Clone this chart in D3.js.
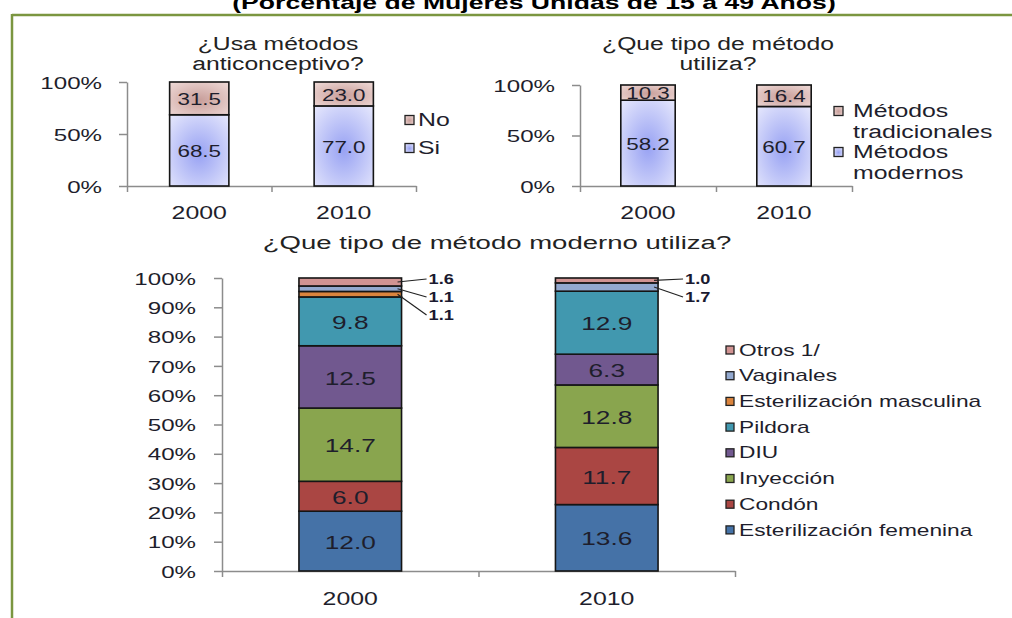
<!DOCTYPE html>
<html><head><meta charset="utf-8">
<script src="https://cdn.jsdelivr.net/npm/d3@7"></script>
<style>body{margin:0;background:#fff} svg{display:block} text{font-family:"Liberation Sans",Arial,sans-serif}</style>
</head><body><svg id="c" width="1012" height="618"></svg>
<script>
// ---------- data ----------
const years = ["2000", "2010"];
const usaKeys = ["Si", "No"];
const usaSi = [68.5, 77.0];
const usaNo = [31.5, 23.0];
const tipoKeys = ["Métodos modernos", "Métodos tradicionales"];
const tipoModernos = [58.2, 60.7];
const tipoTradicionales = [10.3, 16.4];
const modKeys = ["Esterilización femenina", "Condón", "Inyección", "DIU", "Pildora", "Esterilización masculina", "Vaginales", "Otros 1/"];
const estFemenina = [12.0, 13.6];
const condon = [6.0, 11.7];
const inyeccion = [14.7, 12.8];
const diu = [12.5, 6.3];
const pildora = [9.8, 12.9];
const estMasculina = [1.1, 0];
const vaginales = [1.1, 1.7];
const otros = [1.6, 1.0];
const ticksTop = [0, 0.5, 1];
const ticksBottom = [0, 0.1, 0.2, 0.3, 0.4, 0.5, 0.6, 0.7, 0.8, 0.9, 1];
const pageTitle = "(Porcentaje de Mujeres Unidas de 15 a 49 Años)";

const svg = d3.select("#c");
const TXT = "#1e1e2c";

function T(parent, x, y, s, o = {}) {
  return parent.append("text")
    .attr("transform", `translate(${x},${y}) scale(${o.sx || 1.4},1)`)
    .attr("text-anchor", o.anchor || "middle")
    .attr("dominant-baseline", o.baseline || "central")
    .style("font-size", (o.size || 17) + "px")
    .style("font-weight", o.weight || "normal")
    .attr("fill", o.fill || TXT)
    .text(s);
}

const defs = svg.append("defs");
function radial(id, c0, c1) {
  const g = defs.append("radialGradient").attr("id", id).attr("cx", "50%").attr("cy", "55%").attr("r", "70%");
  g.append("stop").attr("offset", "0%").attr("stop-color", c0);
  g.append("stop").attr("offset", "100%").attr("stop-color", c1);
}
radial("gSi", "#98a2f3", "#e3e5fc");
radial("gNo", "#c89e9a", "#eed8d5");

// frame and page title
svg.append("line").attr("x1", 12).attr("x2", 1012).attr("y1", 15).attr("y2", 15).attr("stroke", "#7b9640").attr("stroke-width", 2.5);
svg.append("line").attr("x1", 12).attr("x2", 12).attr("y1", 14).attr("y2", 618).attr("stroke", "#7b9640").attr("stroke-width", 2.5);
T(svg, 534, 9, pageTitle, {size: 19, weight: "bold", sx: 1.4, baseline: "auto", fill: "#000"});

function chart(o) {
  const rows = years.map((yr, i) => {
    const r = {year: yr};
    o.keys.forEach((k, j) => r[k] = o.values[j][i]);
    return r;
  });
  const series = d3.stack().keys(o.keys).offset(d3.stackOffsetExpand)(rows);
  const y = d3.scaleLinear().domain([0, 1]).range([o.y0, o.y1]);
  const x = d3.scaleBand().domain(years).range([o.xa, o.xb]);
  const bw = x.bandwidth() * o.frac;
  const bx = yr => x(yr) + (x.bandwidth() - bw) / 2;
  const g = svg.append("g");

  // y axis
  const ya = g.append("g").attr("transform", `translate(${o.xa},0)`)
    .call(d3.axisLeft(y).tickValues(o.ticks).tickSize(8).tickSizeOuter(0).tickFormat(d3.format(".0%")));
  ya.select(".domain").attr("stroke", "#8c8c8c").attr("stroke-width", 1.5);
  ya.selectAll(".tick line").attr("stroke", "#8c8c8c").attr("stroke-width", 1.5);
  ya.selectAll(".tick text").attr("x", null).attr("dy", null)
    .attr("transform", `translate(${-o.tickPad},0) scale(1.42,1)`)
    .attr("dominant-baseline", "central").attr("fill", TXT)
    .style("font-size", "17px");

  // x axis (ticks at band edges)
  const xe = d3.scaleLinear().domain([0, years.length]).range([o.xa, o.xb]);
  const xa = g.append("g").attr("transform", `translate(0,${o.y0})`)
    .call(d3.axisBottom(xe).tickValues(d3.range(years.length + 1)).tickSize(6).tickSizeOuter(0).tickFormat(""));
  xa.select(".domain").attr("stroke", "#8c8c8c").attr("stroke-width", 1.5);
  xa.selectAll(".tick line").attr("stroke", "#8c8c8c").attr("stroke-width", 1.5);
  years.forEach(yr => T(g, x(yr) + x.bandwidth() / 2, o.catY, yr, {size: 18, sx: 1.38}));

  // bars
  series.forEach((s, si) => {
    g.selectAll(null).data(s.filter(d => d[1] - d[0] > 0)).join("rect")
      .attr("x", d => bx(d.data.year)).attr("y", d => y(d[1]))
      .attr("width", bw).attr("height", d => y(d[0]) - y(d[1]))
      .attr("fill", o.fills[si]).attr("stroke", "#151515").attr("stroke-width", 1.6);
  });

  // labels
  const fmt = d3.format(".1f");
  const smallIdx = {};
  years.forEach(yr => smallIdx[yr] = 0);
  for (let si = series.length - 1; si >= 0; si--) {
    const s = series[si];
    s.forEach(d => {
      const v = d.data[s.key];
      if (v <= 0) return;
      const mid = (y(d[0]) + y(d[1])) / 2;
      const cx = bx(d.data.year) + bw / 2;
      if (d[1] - d[0] >= o.minShare) {
        T(g, cx, mid + 1, fmt(v), {size: o.valSize, sx: o.valSx});
      } else {
        const k = smallIdx[d.data.year]++;
        const right = bx(d.data.year) + bw;
        const lx = right + 27, ly = y(1) + 1 + k * 18;
        g.append("line").attr("x1", right - 4).attr("y1", mid).attr("x2", lx - 2).attr("y2", ly)
          .attr("stroke", "#222").attr("stroke-width", 1.2);
        T(g, lx, ly, fmt(v), {size: 14, weight: "bold", sx: 1.3, anchor: "start", fill: "#1a1a30"});
      }
    });
  }

  // title
  o.title.forEach((t, i) => T(g, o.titleX, o.titleY + i * o.titleGap, t, {size: o.titleSize, sx: o.titleSx, fill: "#222"}));

  // legend
  o.legend.forEach(it => {
    g.append("rect").attr("x", o.legX).attr("y", it.y - o.sq / 2).attr("width", o.sq).attr("height", o.sq)
      .attr("fill", o.fills[it.i]).attr("stroke", "#222").attr("stroke-width", 1.3);
    it.lines.forEach((ln, li) => T(g, o.legX + o.sq + o.legGap, it.y + li * o.lineGap, ln,
      {size: o.legSize, sx: o.legSx, anchor: "start"}));
  });
}

chart({
  keys: usaKeys, values: [usaSi, usaNo], fills: ["url(#gSi)", "url(#gNo)"],
  xa: 127, xb: 416, y0: 186, y1: 82, frac: 0.41, ticks: ticksTop, tickPad: 25, catY: 213,
  minShare: 0.05, valSize: 16, valSx: 1.4,
  title: ["¿Usa métodos", "anticonceptivo?"], titleX: 278, titleY: 44, titleGap: 20, titleSize: 19, titleSx: 1.3,
  legX: 405, sq: 9, legGap: 4, legSize: 18, legSx: 1.38, lineGap: 20,
  legend: [{i: 1, y: 120, lines: ["No"]}, {i: 0, y: 148, lines: ["Si"]}]
});

chart({
  keys: tipoKeys, values: [tipoModernos, tipoTradicionales], fills: ["url(#gSi)", "url(#gNo)"],
  xa: 580, xb: 852, y0: 186, y1: 85, frac: 0.40, ticks: ticksTop, tickPad: 25, catY: 213,
  minShare: 0.05, valSize: 16, valSx: 1.4,
  title: ["¿Que tipo de método", "utiliza?"], titleX: 718, titleY: 44, titleGap: 20, titleSize: 19, titleSx: 1.3,
  legX: 834, sq: 9, legGap: 10, legSize: 18, legSx: 1.38, lineGap: 20.5,
  legend: [{i: 1, y: 111, lines: ["Métodos", "tradicionales"]}, {i: 0, y: 152, lines: ["Métodos", "modernos"]}]
});

chart({
  keys: modKeys,
  values: [estFemenina, condon, inyeccion, diu, pildora, estMasculina, vaginales, otros],
  fills: ["#4572a7", "#aa4643", "#89a54e", "#71588f", "#4198af", "#db843d", "#93a9cf", "#d19392"],
  xa: 222, xb: 735, y0: 571, y1: 278, frac: 0.40, ticks: ticksBottom, tickPad: 26, catY: 599,
  minShare: 0.05, valSize: 19, valSx: 1.38,
  title: ["¿Que tipo de método moderno utiliza?"], titleX: 497, titleY: 243, titleGap: 0, titleSize: 19, titleSx: 1.45,
  legX: 726, sq: 8, legGap: 5, legSize: 16, legSx: 1.42, lineGap: 0,
  legend: modKeys.map((k, i) => ({i, y: 350 + (7 - i) * 25.7, lines: [k]}))
});
</script></body></html>
